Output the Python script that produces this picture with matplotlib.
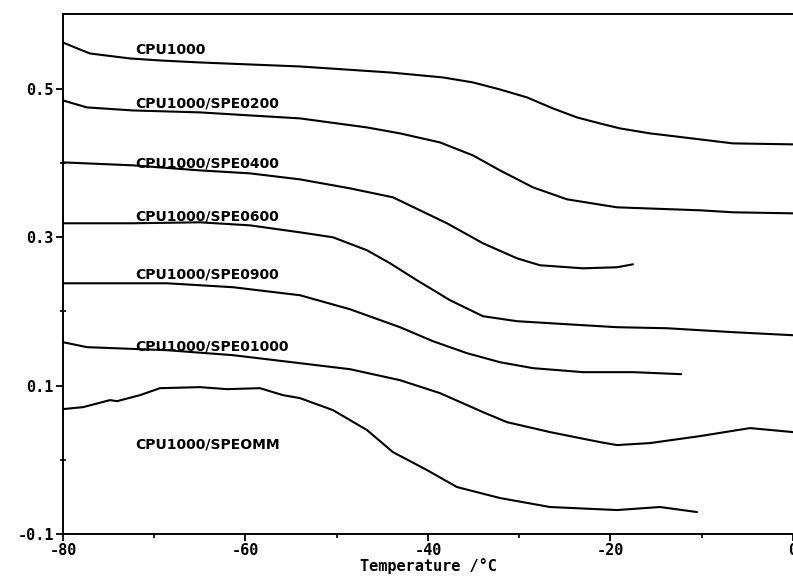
import matplotlib
matplotlib.use("Agg")
import matplotlib.pyplot as plt
from matplotlib.ticker import FixedLocator, MultipleLocator

# ---- data ----
cpu1000_x = [-80, -78.68, -77.04, -72.66, -69.37, -64.99, -59.51, -54.03, -44.16, -38.36, -35.07,
             -32.11, -29.15, -26.30, -23.67, -21.15, -18.96, -15.67, -13.81, -10.19, -6.58, 0]
cpu1000_y = [0.5626, 0.5559, 0.5478, 0.5411, 0.5384, 0.5357, 0.5330, 0.5303, 0.5222, 0.5155, 0.5088,
             0.4993, 0.4886, 0.4737, 0.4616, 0.4535, 0.4468, 0.4401, 0.4374, 0.4320, 0.4266, 0.4253]

spe0200_x = [-80, -77.37, -72.33, -64.99, -59.51, -54.03, -46.68, -43.07, -38.68, -35.07, -32.11,
             -28.49, -24.77, -19.29, -10.19, -6.58, 0]
spe0200_y = [0.4845, 0.4751, 0.4710, 0.4684, 0.4643, 0.4603, 0.4481, 0.4401, 0.4279, 0.4104, 0.3902,
             0.3673, 0.3512, 0.3404, 0.3364, 0.3337, 0.3323]

spe0400_x = [-80, -72.33, -64.99, -59.51, -54.03, -48.55, -43.84, -40.88, -37.92, -33.97, -30.25,
             -27.73, -23.01, -19.29, -17.53]
spe0400_y = [0.4010, 0.3970, 0.3902, 0.3862, 0.3781, 0.3660, 0.3539, 0.3364, 0.3189, 0.2919, 0.2717,
             0.2623, 0.2582, 0.2596, 0.2636]

spe0600_x = [-80, -72.33, -64.99, -59.51, -54.03, -50.41, -46.68, -44.16, -41.21, -37.59, -33.97,
             -30.25, -24.77, -19.29, -13.81, -6.58, 0]
spe0600_y = [0.3189, 0.3189, 0.3202, 0.3161, 0.3067, 0.3000, 0.2825, 0.2650, 0.2421, 0.2152, 0.1936,
             0.1869, 0.1828, 0.1788, 0.1774, 0.1721, 0.1680]

spe0900_x = [-80, -68.60, -61.37, -54.03, -48.55, -43.07, -39.45, -35.73, -32.11, -28.49, -23.01,
             -17.53, -12.27]
spe0900_y = [0.2380, 0.2380, 0.2327, 0.2219, 0.2030, 0.1788, 0.1599, 0.1438, 0.1316, 0.1236, 0.1182,
             0.1182, 0.1155]

spe01000_x = [-80, -77.37, -68.60, -61.37, -54.03, -48.55, -43.07, -38.68, -33.97, -31.34, -26.63,
              -21.15, -19.29, -15.67, -10.19, -4.71, 0]
spe01000_y = [0.1586, 0.1519, 0.1478, 0.1411, 0.1303, 0.1222, 0.1074, 0.0899, 0.0643, 0.0508, 0.0374,
              0.0239, 0.0199, 0.0226, 0.0320, 0.0428, 0.0374]

spemm_x = [-80, -77.81, -74.85, -74.08, -71.56, -69.37, -64.99, -62.03, -58.41, -55.89, -54.03,
           -50.41, -46.68, -43.84, -40.11, -36.82, -32.11, -26.63, -19.29, -14.58, -10.52]
spemm_y = [0.0684, 0.0710, 0.0805, 0.0791, 0.0872, 0.0966, 0.0980, 0.0953, 0.0966, 0.0872, 0.0832,
           0.0670, 0.0401, 0.0104, -0.0138, -0.0367, -0.0515, -0.0636, -0.0677, -0.0636, -0.0704]

series_x = [cpu1000_x, spe0200_x, spe0400_x, spe0600_x, spe0900_x, spe01000_x, spemm_x]
series_y = [cpu1000_y, spe0200_y, spe0400_y, spe0600_y, spe0900_y, spe01000_y, spemm_y]

labels = ["CPU1000", "CPU1000/SPE0200", "CPU1000/SPE0400", "CPU1000/SPE0600",
          "CPU1000/SPE0900", "CPU1000/SPE01000", "CPU1000/SPEOMM"]
label_y = [0.553, 0.4805, 0.3997, 0.3283, 0.250, 0.1532, 0.0212]
label_x = -72.1

x_ticks = [-80, -60, -40, -20, 0]
y_ticks = [-0.1, 0.1, 0.3, 0.5]
y_minor = [0.0, 0.2, 0.4]

# ---- figure ----
fig = plt.figure(figsize=(7.93, 5.77), dpi=100)
ax = fig.add_axes([0.0794, 0.0745, 0.9206, 0.9012])

for xs, ys in zip(series_x, series_y):
    ax.plot(xs, ys, color="black", lw=1.5, solid_capstyle="round", solid_joinstyle="round")

for lab, ly in zip(labels, label_y):
    ax.text(label_x, ly, lab, fontsize=10, fontweight="bold", family="DejaVu Sans",
            va="center", ha="left", color="black")

ax.set_xlim(-80, 0)
ax.set_ylim(-0.1, 0.601)
ax.set_xticks(x_ticks)
ax.set_yticks(y_ticks)
ax.set_xticklabels([f"{v:d}" for v in x_ticks])
ax.set_yticklabels([f"{v:.1f}" for v in y_ticks])
ax.xaxis.set_minor_locator(MultipleLocator(10))
ax.yaxis.set_minor_locator(FixedLocator(y_minor))

for lbl in ax.get_xticklabels() + ax.get_yticklabels():
    lbl.set_family("DejaVu Sans Mono")
    lbl.set_fontweight("bold")
    lbl.set_fontsize(11)

ax.tick_params(axis="both", which="major", direction="out", length=5, width=1.3, pad=1.5)
ax.tick_params(axis="x", which="minor", direction="out", length=3, width=1.2)
ax.tick_params(axis="y", which="minor", direction="inout", length=5, width=1.2)

ax.spines["right"].set_visible(False)
for s in ["left", "bottom", "top"]:
    ax.spines[s].set_linewidth(1.4)

ax.set_xlabel("Temperature /°C", family="DejaVu Sans Mono", fontweight="bold", fontsize=11,
              labelpad=0)

fig.savefig("out.png", dpi=100)
